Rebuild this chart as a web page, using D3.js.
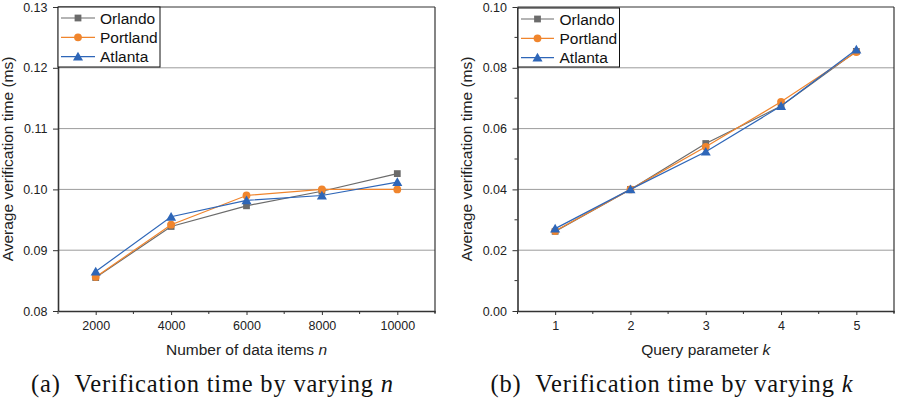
<!DOCTYPE html>
<html><head><meta charset="utf-8">
<script src="https://cdn.jsdelivr.net/npm/d3@7"></script>
<style>body{margin:0;background:#fff}svg{display:block}</style>
</head><body>
<svg id="c" width="902" height="405"></svg>
<script>
const seriesNames = ["Orlando", "Portland", "Atlanta"];
const colors = ["#6b6b6b", "#f0852d", "#2e66b8"];
const nValues = [2000, 4000, 6000, 8000, 10000];
const orlandoN = [0.0855, 0.0939, 0.0973, 0.0997, 0.1026];
const portlandN = [0.0856, 0.0942, 0.0990, 0.1000, 0.1000];
const atlantaN = [0.0865, 0.0955, 0.0982, 0.0990, 0.1012];
const kValues = [1, 2, 3, 4, 5];
const orlandoK = [0.0262, 0.0400, 0.0551, 0.0674, 0.0854];
const portlandK = [0.0263, 0.0400, 0.0540, 0.0688, 0.0852];
const atlantaK = [0.0271, 0.0400, 0.0524, 0.0674, 0.0860];
const yTicksA = [0.08, 0.09, 0.10, 0.11, 0.12, 0.13];
const yTicksB = [0.00, 0.02, 0.04, 0.06, 0.08, 0.10];

const svg = d3.select("#c");
const sans = "'Liberation Sans', Arial, sans-serif";

function panel(opt) {
  const g = svg.append("g");
  const x = d3.scaleLinear().domain(opt.xDomain).range([opt.left, opt.right]);
  const y = d3.scaleLinear().domain(opt.yDomain).range([opt.bottom, opt.top]);
  // gridlines
  g.selectAll(".grid").data(opt.yTicks.filter(v => v > opt.yDomain[0] && v < opt.yDomain[1]))
    .enter().append("line")
    .attr("x1", opt.left).attr("x2", opt.right)
    .attr("y1", d => y(d)).attr("y2", d => y(d))
    .attr("stroke", "#9c9c9c").attr("stroke-width", 1);
  // frame top/right
  g.append("line").attr("x1", opt.left).attr("x2", opt.right).attr("y1", opt.top).attr("y2", opt.top)
    .attr("stroke", "#333").attr("stroke-width", 1.2);
  g.append("line").attr("x1", opt.right).attr("x2", opt.right).attr("y1", opt.top).attr("y2", opt.bottom + 2)
    .attr("stroke", "#333").attr("stroke-width", 1.2);
  // x axis
  const xAxis = d3.axisBottom(x).tickValues(opt.xTicks).tickSize(4).tickSizeOuter(0).tickPadding(6)
    .tickFormat(d => String(d));
  const xa = g.append("g").attr("transform", `translate(0,${opt.bottom})`).call(xAxis);
  // minor x ticks
  g.selectAll(".xm").data(opt.xMinor).enter().append("line")
    .attr("x1", d => x(d)).attr("x2", d => x(d)).attr("y1", opt.bottom).attr("y2", opt.bottom + 3)
    .attr("stroke", "#333").attr("stroke-width", 1);
  // y axis
  const yAxis = d3.axisLeft(y).tickValues(opt.yTicks).tickSize(5).tickSizeOuter(0).tickPadding(5.5)
    .tickFormat(d3.format(".2f"));
  const ya = g.append("g").attr("transform", `translate(${opt.left},0)`).call(yAxis);
  if (opt.yMinor) {
    g.selectAll(".ym").data(opt.yMinor).enter().append("line")
      .attr("x1", opt.left - 3).attr("x2", opt.left).attr("y1", d => y(d)).attr("y2", d => y(d))
      .attr("stroke", "#333").attr("stroke-width", 1);
  }
  [xa, ya].forEach(a => {
    a.select(".domain").attr("stroke", "#333").attr("stroke-width", 1.6);
    a.selectAll(".tick line").attr("stroke", "#333").attr("stroke-width", 1);
    a.selectAll("text").attr("font-family", sans).attr("font-size", "12.5px").attr("fill", "#222");
  });
  // axis titles
  const xt = g.append("text").attr("x", (opt.left + opt.right) / 2).attr("y", 355)
    .attr("text-anchor", "middle").attr("font-family", sans).attr("font-size", "15.5px").attr("fill", "#222");
  xt.append("tspan").text(opt.xTitle + " ");
  xt.append("tspan").attr("font-style", "italic").text(opt.xVar);
  g.append("text").attr("transform", `translate(${opt.yTitleX},${(opt.top + opt.bottom) / 2}) rotate(-90)`)
    .attr("text-anchor", "middle").attr("font-family", sans).attr("font-size", "15.5px").attr("fill", "#222")
    .text("Average verification time (ms)");
  // series
  const line = d3.line().x((d, i) => x(opt.xs[i])).y(d => y(d));
  const shapes = [d3.symbolSquare, d3.symbolCircle, d3.symbolTriangle];
  const sizes = [46, 48, 44];
  opt.series.forEach((s, si) => {
    g.append("path").datum(s).attr("d", line).attr("fill", "none")
      .attr("stroke", colors[si]).attr("stroke-width", 1.2);
    g.selectAll(".m" + si).data(s).enter().append("path")
      .attr("d", d3.symbol().type(shapes[si]).size(sizes[si]))
      .attr("transform", (d, i) => `translate(${x(opt.xs[i])},${y(d) + (si === 2 ? 1 : 0)})`)
      .attr("fill", colors[si]);
  });
  // legend
  const L = opt.legend;
  g.append("rect").attr("x", L.x).attr("y", L.y).attr("width", L.w).attr("height", L.h)
    .attr("fill", "#fff").attr("stroke", "#111").attr("stroke-width", 1);
  seriesNames.forEach((n, i) => {
    const yy = L.y + 11 + i * 19.3;
    g.append("line").attr("x1", L.x + 3).attr("x2", L.x + L.sw).attr("y1", yy).attr("y2", yy)
      .attr("stroke", colors[i]).attr("stroke-width", 1.2);
    g.append("path").attr("d", d3.symbol().type(shapes[i]).size(sizes[i]))
      .attr("transform", `translate(${L.x + 3 + (L.sw - 3) / 2},${yy + (i === 2 ? 1 : 0)})`).attr("fill", colors[i]);
    g.append("text").attr("x", L.x + L.tx).attr("y", yy + 5.5).attr("font-family", sans)
      .attr("font-size", "15.5px").attr("fill", "#111").text(n);
  });
  // caption
  const cap = g.append("text").attr("x", opt.capX).attr("y", 392)
    .attr("font-family", "'Liberation Serif', 'Times New Roman', serif").attr("font-size", "24.5px").attr("fill", "#111")
    .attr("textLength", opt.capW).attr("lengthAdjust", "spacing");
  cap.append("tspan").text(opt.capLabel + "\u00a0\u00a0Verification time by varying ");
  cap.append("tspan").attr("font-style", "italic").text(opt.xVar);
}

panel({
  left: 58, right: 435, top: 7, bottom: 311,
  xDomain: [1000, 11000], yDomain: [0.08, 0.13],
  xTicks: nValues, xMinor: [1000, 3000, 5000, 7000, 9000, 11000],
  yTicks: yTicksA, yMinor: null,
  xs: nValues, series: [orlandoN, portlandN, atlantaN],
  xTitle: "Number of data items", xVar: "n", yTitleX: 13,
  legend: {x: 58, y: 7, w: 102, h: 60, sw: 37, tx: 42},
  capX: 31, capW: 362, capLabel: "(a)"
});
panel({
  left: 517.5, right: 894, top: 7, bottom: 311,
  xDomain: [0.5, 5.5], yDomain: [0, 0.1],
  xTicks: kValues, xMinor: [0.5, 1.5, 2.5, 3.5, 4.5, 5.5],
  yTicks: yTicksB, yMinor: [0.01, 0.03, 0.05, 0.07, 0.09],
  xs: kValues, series: [orlandoK, portlandK, atlantaK],
  xTitle: "Query parameter", xVar: "k", yTitleX: 472,
  legend: {x: 518, y: 8, w: 101.5, h: 59, sw: 36, tx: 41.5},
  capX: 490.5, capW: 362, capLabel: "(b)"
});
</script>
</body></html>
